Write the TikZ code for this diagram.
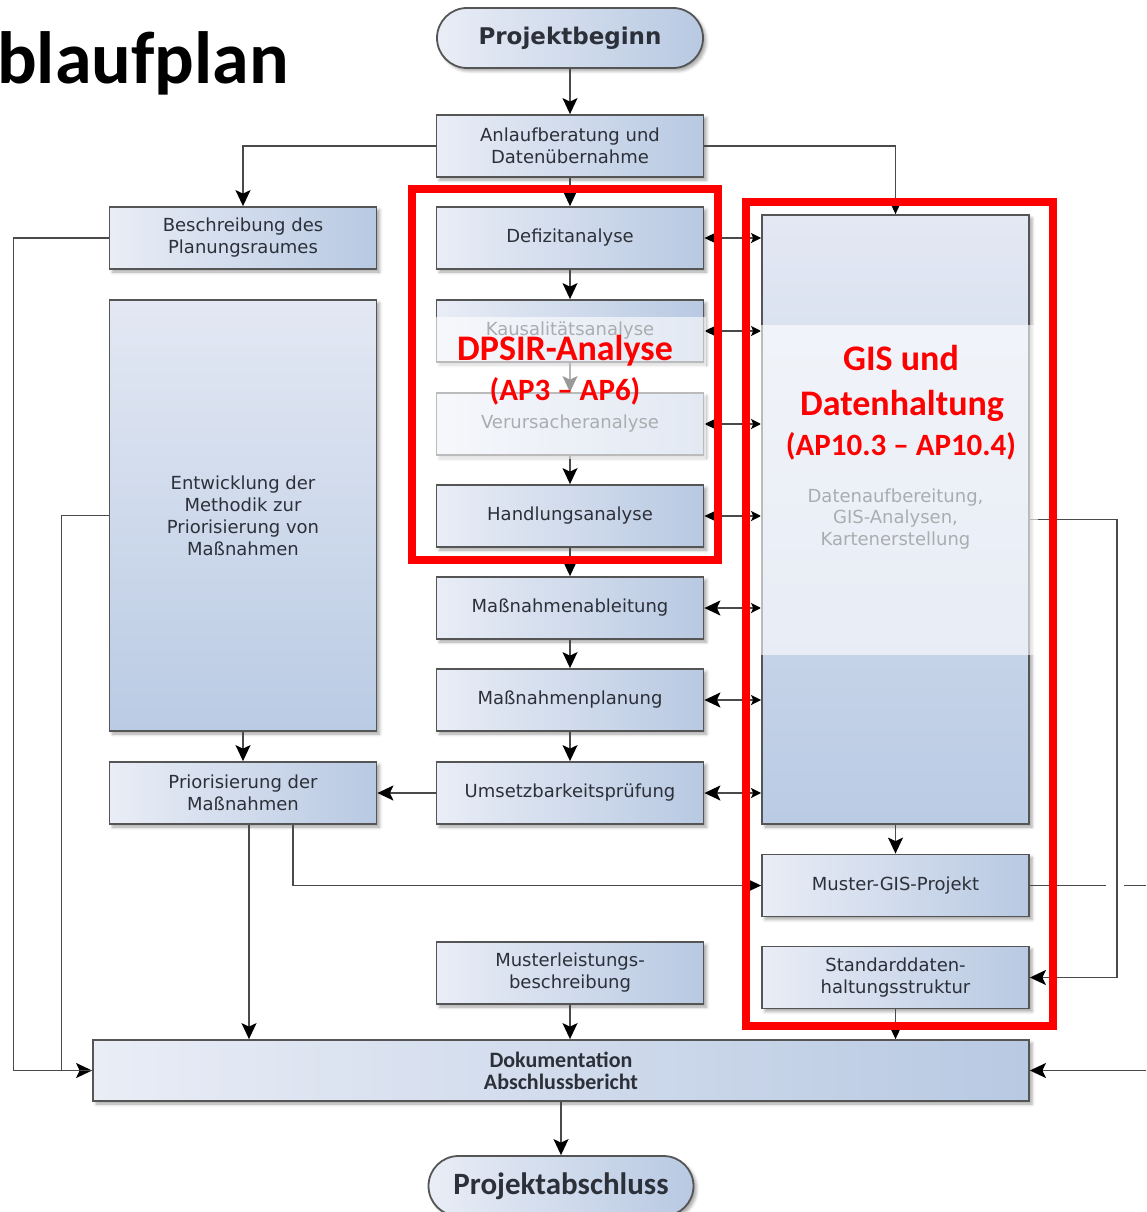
\documentclass[tikz,border=0pt]{standalone}
\usepackage{fontspec}
\setmainfont{DejaVu Sans}
\newfontfamily\boxfont{DejaVu Sans}
\newfontfamily\headfont{Carlito}
\usetikzlibrary{arrows.meta,shadows.blur}

\definecolor{boxL}{HTML}{E9EDF6}
\definecolor{boxR}{HTML}{B8C9E2}
\definecolor{boxTop}{HTML}{E3E8F3}
\definecolor{boxBot}{HTML}{BACBE4}
\definecolor{boxline}{HTML}{555555}
\definecolor{boxtext}{HTML}{2C3039}
\definecolor{linecol}{HTML}{4A4A4A}
\definecolor{markred}{HTML}{FF0000}

\tikzset{
  shadowed/.style={blur shadow={shadow xshift=3pt, shadow yshift=-3pt,
      shadow blur radius=3pt, shadow opacity=35}},
  stepbox/.style={draw=boxline, line width=1.8pt, left color=boxL, right color=boxR,
      minimum width=267pt, minimum height=62pt, inner sep=2pt, align=center,
      text=boxtext, font=\boxfont\fontsize{18}{22}\selectfont, shadowed},
  tallbox/.style={stepbox, top color=boxTop, bottom color=boxBot},
  pill/.style={stepbox, rounded corners=30pt, minimum height=60pt},
  link/.style={draw=linecol, line width=1.6pt},
  arr/.style={link, -{Stealth[length=16pt,width=15pt,inset=3.5pt,color=black]}},
  twoway/.style={link, {Stealth[length=10pt,width=10pt,inset=2pt,color=black]}-{Stealth[length=16pt,width=15pt,inset=3.5pt,color=black]}},
  fade/.style={fill=white, fill opacity=0.6, draw=none},
  redframe/.style={draw=markred, line width=8pt},
  redtext/.style={text=markred, inner sep=0pt, anchor=base},
}

\begin{document}
\begin{tikzpicture}[x=1pt,y=-1pt]
\useasboundingbox (0,0) rectangle (1146,1212);

% title
\node[inner sep=0pt, anchor=base west, font=\headfont\bfseries\fontsize{74}{80}\selectfont] (title) at (-3,84) {blaufplan};

% start and end
\node[pill, font=\boxfont\bfseries\fontsize{23}{26}\selectfont, minimum width=266pt] (pb) at (570,38) {Projektbeginn};
\node[pill, font=\headfont\bfseries\fontsize{31}{34}\selectfont, minimum width=265pt] (pa) at (561,1186) {Projektabschluss};

% middle column
\node[stepbox] (anl) at (570,146) {Anlaufberatung und\\Datenübernahme};
\node[stepbox] (def) at (570,238) {Defizitanalyse};
\node[stepbox] (kau) at (570,331) {Kausalitätsanalyse};
\node[stepbox] (ver) at (570,424) {Verursacheranalyse};
\node[stepbox] (han) at (570,516) {Handlungsanalyse};
\node[stepbox] (abl) at (570,608) {Maßnahmenableitung};
\node[stepbox] (pla) at (570,700) {Maßnahmenplanung};
\node[stepbox] (ums) at (570,793) {Umsetzbarkeitsprüfung};
\node[stepbox] (mlb) at (570,973) {Musterleistungs-\\beschreibung};

% left column
\node[stepbox] (bes) at (243,238) {Beschreibung des\\Planungsraumes};
\node[tallbox, minimum height=431pt] (ent) at (243,515.5) {Entwicklung der\\Methodik zur\\Priorisierung von\\Maßnahmen};
\node[stepbox] (pri) at (243,793) {Priorisierung der\\Maßnahmen};

% right column
\node[tallbox, minimum height=609pt] (gis) at (895.5,519.5) {};
\node[text=boxtext, align=center, font=\boxfont\fontsize{18}{21.5}\selectfont] (gistext) at (895.5,519) {Datenaufbereitung,\\GIS-Analysen,\\Kartenerstellung};
\node[stepbox] (mus) at (895.5,885.5) {Muster-GIS-Projekt};
\node[stepbox] (std) at (895.5,977.5) {Standarddaten-\\haltungsstruktur};

% final report
\node[stepbox, minimum width=936pt, minimum height=61pt,
      font=\headfont\bfseries\fontsize{22}{22}\selectfont] (doc) at (561,1070.5) {Dokumentation\\Abschlussbericht};

% main flow
\draw[arr] (pb) -- (anl);
\draw[arr] (anl) -- (def);
\draw[arr] (def) -- (kau);
\draw[arr] (kau) -- (ver);
\draw[arr] (ver) -- (han);
\draw[arr] (han) -- (abl);
\draw[arr] (abl) -- (pla);
\draw[arr] (pla) -- (ums);
\draw[arr] (doc) -- (pa);

% branches from the kick-off meeting
\draw[arr] (anl.west) -| (bes.north);
\draw[arr] (anl.east) -| (gis.north);

% left side
\draw[arr] (ent) -- (pri);
\draw[arr] (ums.west) -- (pri.east);
\draw[arr] ([xshift=6pt]pri.south) -- ([xshift=6pt]pri.south |- doc.north);
\draw[arr] ([xshift=50pt]pri.south) |- (mus.west);
\draw[arr] (bes.west) -- ++(-95,0) |- (doc.west);
\draw[link] (ent.west) -- ++(-47,0) |- (doc.west);

% data exchange with the GIS block
\foreach \n in {def,kau,ver,han,abl,pla,ums}
  \draw[twoway] (\n.east -| gis.west) -- (\n.east);

% right side
\draw[arr] (gis) -- (mus);
\draw[arr] (gis.east) -- ++(87,0) |- (std.east);
\coordinate (gapA) at (1106,885.5);
\coordinate (gapB) at (1124,885.5);
\coordinate (offR) at (1146,885.5);
\draw[link] (mus.east) -- (gapA);
\draw[link] (gapB) -- (offR);
\coordinate (inR) at (1146,1070.5);
\draw[arr] (inR) -- (doc.east);

% into the final report
\draw[arr] (mlb) -- (mlb.south |- doc.north);
\draw[arr] (std) -- (std.south |- doc.north);

% light veils over the grouped areas
\fill[fade] (433,317) rectangle (706,459);
\fill[fade] (760,325) rectangle (1038,655);

% red group frames
\draw[redframe] (412,189) rectangle (718,560);
\draw[redframe] (746,202) rectangle (1053,1026);

% group labels
\node[redtext, font=\headfont\bfseries\fontsize{36}{40}\selectfont] (dpsir) at (565,360) {DPSIR-Analyse};
\node[redtext, font=\headfont\bfseries\fontsize{31}{34}\selectfont] (dpsirap) at (565,400) {(AP3 – AP6)};
\node[redtext, font=\headfont\bfseries\fontsize{36}{40}\selectfont] (gisa) at (901,370) {GIS und};
\node[redtext, font=\headfont\bfseries\fontsize{36}{40}\selectfont] (gisb) at (902,415) {Datenhaltung};
\node[redtext, font=\headfont\bfseries\fontsize{31}{34}\selectfont] (gisap) at (901,455) {(AP10.3 – AP10.4)};
\end{tikzpicture}
\end{document}
